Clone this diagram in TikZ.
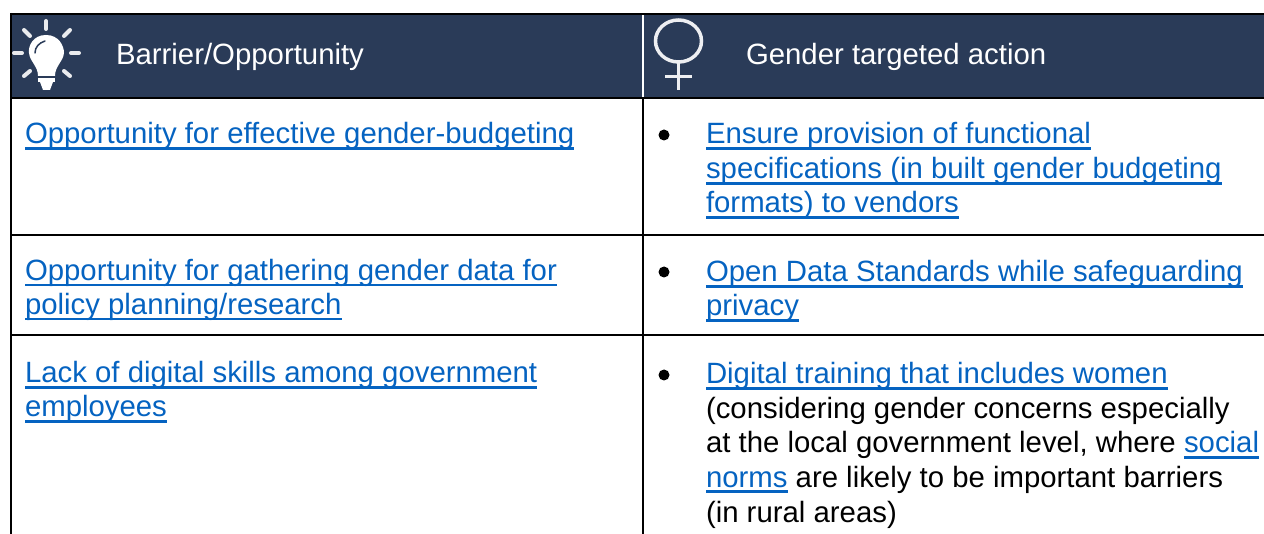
\documentclass[tikz,border=0pt]{standalone}
\usepackage{fontspec}
\setmainfont{Liberation Sans}
\definecolor{hdr}{HTML}{2A3B58}
\definecolor{lnk}{HTML}{0563C1}
\newsavebox{\lkbox}
\newcommand{\lk}[1]{\sbox{\lkbox}{#1}\rlap{\rule[-6pt]{\wd\lkbox}{2.8pt}}\usebox{\lkbox}}
\tikzset{
 x=1pt,y=-1pt,
 rule/.style={line width=2pt,black},
 txt/.style={anchor=base west,inner sep=0pt,outer sep=0pt,font=\fontsize{29.35pt}{34pt}\selectfont,text=black},
 lnktxt/.style={txt,text=lnk},
 hdrtxt/.style={txt,text=white},
 bulletmark/.style={circle,fill=black,inner sep=0pt,minimum size=11pt},
 iconline/.style={white!90!hdr,line width=4pt,line cap=round},
}
\begin{document}
\begin{tikzpicture}
\useasboundingbox (0,0) rectangle (1264,534);
\fill[white] (0,0) rectangle (1264,534);
\fill[hdr] (11,14) rectangle (1264,97);
\draw[white,line width=2pt] (643,14) -- (643,97);
\draw[rule] (10,14) -- (1264,14);
\draw[rule] (10,98) -- (1264,98);
\draw[rule] (10,235) -- (1264,235);
\draw[rule] (10,335) -- (1264,335);
\draw[rule] (11,13) -- (11,534);
\draw[rule] (643,98) -- (643,534);
% bulb
\draw[iconline] (46,21)--(46,29);
\draw[iconline] (24,30)--(30,36);
\draw[iconline] (70,30)--(64,36);
\draw[iconline] (14,53)--(22,53);
\draw[iconline] (71,53)--(79,53);
\draw[iconline] (24,76)--(30,71);
\draw[iconline] (70,76)--(64,71);
\fill[white] (46,35) .. controls (33,35) and (28,46) .. (29,53) .. controls (30,62) and (38,66) .. (38,76) -- (55,76) .. controls (55,66) and (63,62) .. (64,53) .. controls (64,46) and (59,35) .. (46,35) -- cycle;
\draw[hdr,line width=1.5pt,line cap=round] (35,53) .. controls (35,47) and (39,43) .. (45,41);
\fill[white] (38,78) rectangle (55,82);
\fill[white] (40,82) -- (53,82) -- (50,90) -- (43,90) -- cycle;
% venus
\draw[white!92!hdr,line width=3.5pt] (678.5,41) ellipse (23 and 21);
\draw[white!92!hdr,line width=3.5pt] (678.5,62) -- (678.5,90);
\draw[white!92!hdr,line width=3.5pt] (665,76.5) -- (692,76.5);
% header text
\node[hdrtxt] (h1) at (116,64.5) {Barrier/Opportunity};
\node[hdrtxt] (h2) at (746,64.5) {Gender targeted action};
% left
\node[lnktxt] (a1) at (25,144) {\lk{Opportunity for effective gender-budgeting}};
\node[lnktxt] (a2) at (25,280.5) {\lk{Opportunity for gathering gender data for}};
\node[lnktxt] (a3) at (25,314.5) {\lk{policy planning/research}};
\node[lnktxt] (a4) at (25,383) {\lk{Lack of digital skills among government}};
\node[lnktxt] (a5) at (25,417) {\lk{employees}};
% right
\node[bulletmark] (b1) at (664,135) {};
\node[bulletmark] (b2) at (664,272) {};
\node[bulletmark] (b3) at (664,375) {};
\node[lnktxt] (c1) at (706,144) {\lk{Ensure provision of functional}};
\node[lnktxt] (c2) at (706,179) {\lk{specifications (in built gender budgeting}};
\node[lnktxt] (c3) at (706,213) {\lk{formats) to vendors}};
\node[lnktxt] (c4) at (706,282) {\lk{Open Data Standards while safeguarding}};
\node[lnktxt] (c5) at (706,316) {\lk{privacy}};
\node[lnktxt] (c6) at (706,384) {\lk{Digital training that includes women}};
\node[txt] (c7) at (706,419) {(considering gender concerns especially};
\node[txt] (c8) at (706,453) {at the local government level, where \textcolor{lnk}{\lk{social}}};
\node[txt] (c9) at (706,487) {\textcolor{lnk}{\lk{norms}} are likely to be important barriers};
\node[txt] (c10) at (706,522) {(in rural areas)};
\end{tikzpicture}
\end{document}
